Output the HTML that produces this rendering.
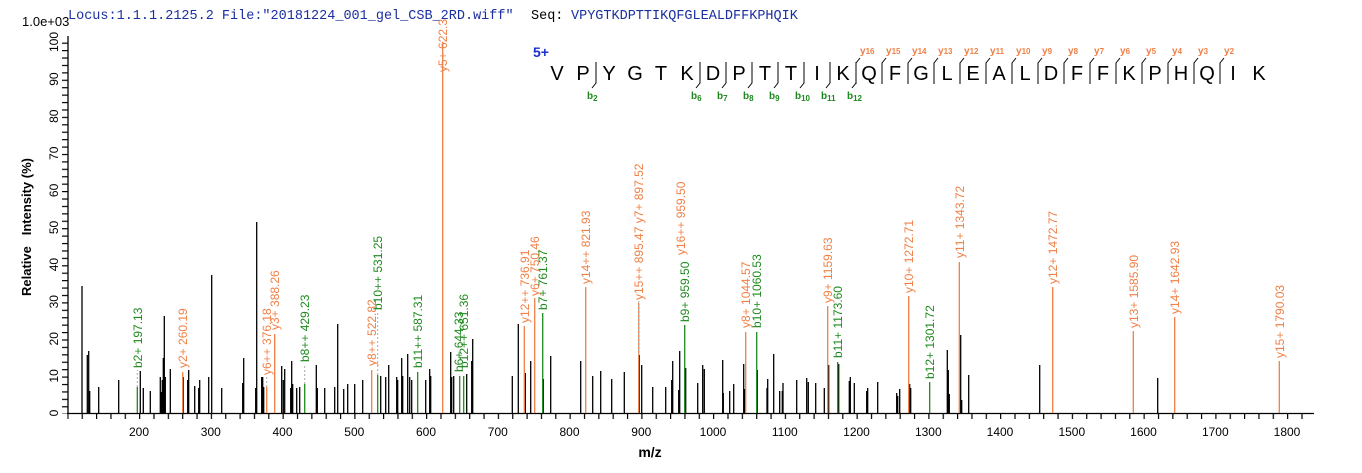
<!DOCTYPE html>
<html><head><meta charset="utf-8">
<style>
html,body{margin:0;padding:0;background:#fff;}
svg{display:block;}
.t{font-family:"Liberation Sans",Arial,sans-serif;}
.m{font-family:"Liberation Mono","Courier New",monospace;}
.o{fill:#f07f45;}
.g{fill:#1e8a1e;}
</style></head><body>
<svg width="1362" height="473" viewBox="0 0 1362 473" xmlns="http://www.w3.org/2000/svg">
<defs>
<pattern id="xt" x="67.3" y="0" width="14.35" height="473" patternUnits="userSpaceOnUse"><rect x="0" y="0" width="1.2" height="473" fill="#000"/></pattern>
<pattern id="yt" x="0" y="413.6" width="10" height="7.42" patternUnits="userSpaceOnUse"><rect x="0" y="0" width="10" height="1.2" fill="#000"/></pattern>
</defs>
<text x="68" y="19" class="m" font-size="13.5" fill="#1a2fa0">Locus:1.1.1.2125.2 File:"20181224_001_gel_CSB_2RD.wiff"</text>
<text x="531" y="19" class="m" font-size="13.5" fill="#000">Seq:</text>
<text x="571" y="19" class="m" font-size="13.5" fill="#1a2fa0">VPYGTKDPTTIKQFGLEALDFFKPHQIK</text>
<text x="22" y="26" class="t" font-size="13" fill="#000">1.0e+03</text>

<rect x="67.3" y="413" width="1248" height="6" fill="url(#xt)"/>
<rect x="62" y="42" width="6" height="372" fill="url(#yt)"/>
<line x1="68" y1="36" x2="68" y2="414" stroke="#000" stroke-width="1.3"/>
<line x1="67" y1="413.5" x2="1314" y2="413.5" stroke="#000" stroke-width="1.3"/>
<g class="t" font-size="12" fill="#000" text-anchor="middle">
<text x="139" y="436">200</text><text x="210.8" y="436">300</text><text x="282.5" y="436">400</text><text x="354.3" y="436">500</text><text x="426" y="436">600</text><text x="497.8" y="436">700</text><text x="569.5" y="436">800</text><text x="641.3" y="436">900</text><text x="713" y="436">1000</text><text x="784.8" y="436">1100</text><text x="856.5" y="436">1200</text><text x="928.3" y="436">1300</text><text x="1000" y="436">1400</text><text x="1071.8" y="436">1500</text><text x="1143.5" y="436">1600</text><text x="1215.3" y="436">1700</text><text x="1287" y="436">1800</text>
</g>
<g class="t" font-size="12" fill="#000" text-anchor="middle">
<text transform="translate(58,413) rotate(-90)">0</text>
<text transform="translate(58,375.9) rotate(-90)">10</text>
<text transform="translate(58,338.8) rotate(-90)">20</text>
<text transform="translate(58,301.7) rotate(-90)">30</text>
<text transform="translate(58,264.6) rotate(-90)">40</text>
<text transform="translate(58,227.5) rotate(-90)">50</text>
<text transform="translate(58,190.4) rotate(-90)">60</text>
<text transform="translate(58,153.3) rotate(-90)">70</text>
<text transform="translate(58,116.2) rotate(-90)">80</text>
<text transform="translate(58,79.1) rotate(-90)">90</text>
<text transform="translate(58,42) rotate(-90)">100</text>
</g>
<text transform="translate(31,227) rotate(-90)" class="t" font-size="13" font-weight="bold" text-anchor="middle" xml:space="preserve">Relative   Intensity (%)</text>
<text x="650" y="457" class="t" font-size="14" font-weight="bold" text-anchor="middle">m/z</text>

<path stroke="#000" stroke-width="1.3" fill="none" d="M82 413V286M87.3 413V355M88.7 413V351M89.7 413V391M98.7 413V387M118.7 413V380M140.3 413V371M143.3 413V388M150.3 413V391M160.3 413V377M161.3 413V392M162.3 413V380M163.3 413V358M164.3 413V316M165.3 413V377M170.3 413V369M183.3 413V377M187.7 413V380M188.7 413V370M194.7 413V386M198.7 413V388M199.7 413V380M208.7 413V377M211.7 413V275M221.7 413V388M242.7 413V383M243.7 413V358M255.7 413V388M256.7 413V222M261.7 413V377M262.7 413V377M263.7 413V387M281.7 413V366M283.3 413V380M284.7 413V369M290.7 413V388M291.7 413V361M292.7 413V384M296.7 413V388M299.7 413V387M316.3 413V365M317.3 413V388M324.7 413V388M334.7 413V387M337.7 413V324M343.7 413V389M347.7 413V384M354.7 413V384M362.7 413V380M380.7 413V376M385.7 413V377M388.7 413V365M396.7 413V377M397.7 413V380M401.7 413V358M402.7 413V376M407.7 413V354M409.7 413V377M411.7 413V380M425.7 413V380M429.7 413V369M430.7 413V376M450.7 413V352M451.7 413V377M453.7 413V376M466.7 413V374M471.7 413V361M472.7 413V339M512.3 413V376M518.3 413V324M525.3 413V373M530.7 413V361M543.3 413V379M550.7 413V356M580.7 413V361M592.7 413V376M600.7 413V371M611.7 413V379M624.3 413V372M639.3 413V355M641.7 413V365M652.7 413V387M665.7 413V387M671.7 413V380M672.7 413V361M678.7 413V390M679.7 413V351M685.7 413V368M697.7 413V383M702.7 413V365M704.3 413V369M722.7 413V360M723.3 413V393M729.7 413V391M733.7 413V384M743.7 413V364M744.7 413V389M757.3 413V370M767 413V388M767.7 413V379M773.7 413V354M779.7 413V391M782.3 413V391M783 413V383M796.7 413V380M806.7 413V378M808.3 413V382M815.7 413V383M824.3 413V388M828.7 413V365M838.7 413V364M849.3 413V381M850.3 413V377M854.3 413V383M866.7 413V391M867.7 413V388M877.7 413V382M896.7 413V393M897.7 413V396M899.7 413V389M909.7 413V384M910.7 413V388M947.3 413V350M948.3 413V370M949.3 413V394M960.7 413V335M961.7 413V400M968.7 413V375M1039.7 413V365M1157.7 413V378"/>
<path stroke="#f07f45" stroke-width="1.3" fill="none" d="M182.7 413V372M266.7 413V387M274.7 413V334M371.7 413V370M442.7 413V42M524.3 413V326M534.7 413V298M585.7 413V287M638.7 413V303M745.7 413V332M827.7 413V306M908.7 413V296M959.3 413V262M1052.7 413V287M1133.3 413V331M1174.7 413V317M1279.3 413V361"/>
<path stroke="#1e8a1e" stroke-width="1.3" fill="none" d="M137.3 413V387M304.7 413V384M377.7 413V375M417.7 413V372M459.7 413V376M463.7 413V376M542.7 413V313M684.7 413V325M756.7 413V332M837.7 413V362M929.7 413V382"/>
<path stroke="#aaa" stroke-width="1" stroke-dasharray="2,2" fill="none" d="M137.3 387V370M266.7 387V376M304.7 384V364M377.7 375V312M638.7 355V300"/>

<g class="t" font-size="12">
<text class="g" transform="translate(142,368) rotate(-90)">b2+ 197.13</text>
<text class="o" transform="translate(187,368) rotate(-90)">y2+ 260.19</text>
<text class="o" transform="translate(271,375) rotate(-90)">y6++ 376.18</text>
<text class="o" transform="translate(279,330) rotate(-90)">y3+ 388.26</text>
<text class="g" transform="translate(309,362) rotate(-90)">b8++ 429.23</text>
<text class="o" transform="translate(376,366) rotate(-90)">y8++ 522.82</text>
<text class="g" transform="translate(382,310) rotate(-90)">b10++ 531.25</text>
<text class="g" transform="translate(422,368) rotate(-90)">b11++ 587.31</text>
<text class="o" transform="translate(447,72) rotate(-90)">y5+ 622.3</text>
<text class="g" transform="translate(463,372) rotate(-90)">b6+ 644.33</text>
<text class="g" transform="translate(468,368) rotate(-90)">b12++ 651.36</text>
<text class="o" transform="translate(529,323) rotate(-90)">y12++ 736.91</text>
<text class="o" transform="translate(539,296) rotate(-90)">y6+ 750.46</text>
<text class="g" transform="translate(547,310) rotate(-90)">b7+ 761.37</text>
<text class="o" transform="translate(590,284) rotate(-90)">y14++ 821.93</text>
<text class="o" transform="translate(643,300) rotate(-90)">y15++ 895.47 y7+ 897.52</text>
<text class="o" transform="translate(685,255) rotate(-90)">y16++ 959.50</text>
<text class="g" transform="translate(689,322) rotate(-90)">b9+ 959.50</text>
<text class="o" transform="translate(750,328) rotate(-90)">y8+ 1044.57</text>
<text class="g" transform="translate(761,328) rotate(-90)">b10+ 1060.53</text>
<text class="o" transform="translate(832,303) rotate(-90)">y9+ 1159.63</text>
<text class="g" transform="translate(842,358) rotate(-90)">b11+ 1173.60</text>
<text class="o" transform="translate(913,293) rotate(-90)">y10+ 1272.71</text>
<text class="g" transform="translate(934,379) rotate(-90)">b12+ 1301.72</text>
<text class="o" transform="translate(964,258) rotate(-90)">y11+ 1343.72</text>
<text class="o" transform="translate(1057,284) rotate(-90)">y12+ 1472.77</text>
<text class="o" transform="translate(1138,328) rotate(-90)">y13+ 1585.90</text>
<text class="o" transform="translate(1179,314) rotate(-90)">y14+ 1642.93</text>
<text class="o" transform="translate(1284,358) rotate(-90)">y15+ 1790.03</text>
</g>

<text x="533" y="57" class="t" font-size="14" font-weight="bold" fill="#1a2fd0">5+</text>
<g class="t" font-size="20" fill="#000" text-anchor="middle">
<text x="557" y="80">V</text><text x="583" y="80">P</text><text x="609" y="80">Y</text><text x="635" y="80">G</text><text x="661" y="80">T</text><text x="687" y="80">K</text><text x="713" y="80">D</text><text x="739" y="80">P</text><text x="765" y="80">T</text><text x="791" y="80">T</text><text x="817" y="80">I</text><text x="843" y="80">K</text><text x="869" y="80">Q</text><text x="895" y="80">F</text><text x="921" y="80">G</text><text x="947" y="80">L</text><text x="973" y="80">E</text><text x="999" y="80">A</text><text x="1025" y="80">L</text><text x="1051" y="80">D</text><text x="1077" y="80">F</text><text x="1103" y="80">F</text><text x="1129" y="80">K</text><text x="1155" y="80">P</text><text x="1181" y="80">H</text><text x="1207" y="80">Q</text><text x="1233" y="80">I</text><text x="1259" y="80">K</text>
</g>
<path stroke="#000" stroke-width="1" fill="none" d="M596 62V83L592 88M700 62V83L696 88M726 62V83L722 88M752 62V83L748 88M778 62V83L774 88M804 62V83L800 88M830 62V83L826 88M856 62V83L852 88"/>
<g class="t g" font-size="10" font-weight="bold">
<text x="587" y="99">b<tspan font-size="8" dy="2">2</tspan></text>
<text x="691" y="99">b<tspan font-size="8" dy="2">6</tspan></text>
<text x="717" y="99">b<tspan font-size="8" dy="2">7</tspan></text>
<text x="743" y="99">b<tspan font-size="8" dy="2">8</tspan></text>
<text x="769" y="99">b<tspan font-size="8" dy="2">9</tspan></text>
<text x="795" y="99">b<tspan font-size="8" dy="2">10</tspan></text>
<text x="821" y="99">b<tspan font-size="8" dy="2">11</tspan></text>
<text x="847" y="99">b<tspan font-size="8" dy="2">12</tspan></text>
</g>
<path stroke="#000" stroke-width="1" fill="none" d="M856 84V63L860 58M882 84V63L886 58M908 84V63L912 58M934 84V63L938 58M960 84V63L964 58M986 84V63L990 58M1012 84V63L1016 58M1038 84V63L1042 58M1064 84V63L1068 58M1090 84V63L1094 58M1116 84V63L1120 58M1142 84V63L1146 58M1168 84V63L1172 58M1194 84V63L1198 58M1220 84V63L1224 58"/>
<g class="t o" font-size="10" font-weight="bold">
<text x="860" y="54">y<tspan font-size="8">16</tspan></text>
<text x="886" y="54">y<tspan font-size="8">15</tspan></text>
<text x="912" y="54">y<tspan font-size="8">14</tspan></text>
<text x="938" y="54">y<tspan font-size="8">13</tspan></text>
<text x="964" y="54">y<tspan font-size="8">12</tspan></text>
<text x="990" y="54">y<tspan font-size="8">11</tspan></text>
<text x="1016" y="54">y<tspan font-size="8">10</tspan></text>
<text x="1042" y="54">y<tspan font-size="8">9</tspan></text>
<text x="1068" y="54">y<tspan font-size="8">8</tspan></text>
<text x="1094" y="54">y<tspan font-size="8">7</tspan></text>
<text x="1120" y="54">y<tspan font-size="8">6</tspan></text>
<text x="1146" y="54">y<tspan font-size="8">5</tspan></text>
<text x="1172" y="54">y<tspan font-size="8">4</tspan></text>
<text x="1198" y="54">y<tspan font-size="8">3</tspan></text>
<text x="1224" y="54">y<tspan font-size="8">2</tspan></text>
</g>
</svg>
</body></html>
